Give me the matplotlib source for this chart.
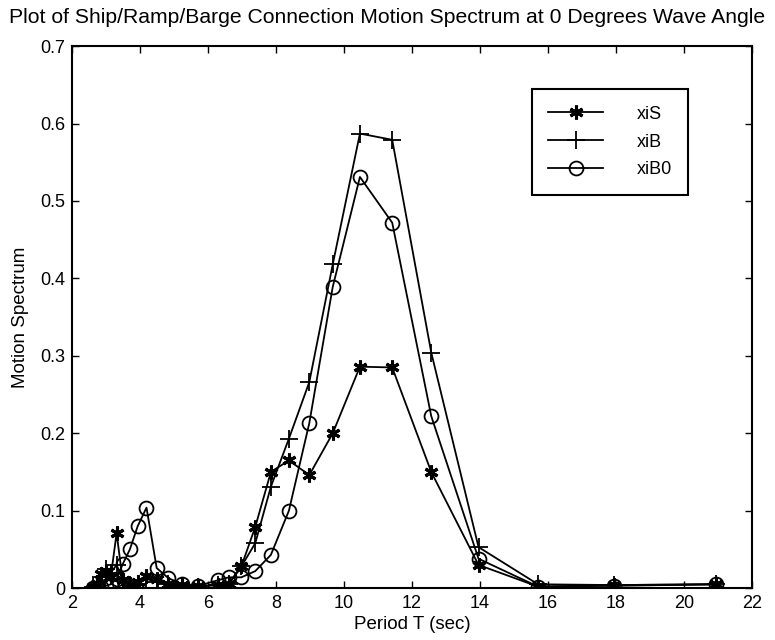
import matplotlib
matplotlib.use("Agg")
import matplotlib.pyplot as plt

plt.rcParams['font.family'] = ['Liberation Sans', 'DejaVu Sans']

# wave periods (sec)
period = [20.94, 17.95, 15.71, 13.96, 12.57, 11.42, 10.47, 9.67, 8.98, 8.38,
          7.85, 7.39, 6.98, 6.61, 6.28, 5.71, 5.24, 4.83, 4.49, 4.19,
          3.93, 3.70, 3.49, 3.31, 3.14, 2.99, 2.86, 2.73, 2.62]

xiS = [0.005, 0.004, 0.002, 0.030, 0.150, 0.285, 0.286, 0.200, 0.146, 0.165,
       0.150, 0.079, 0.028, 0.006, 0.004, 0.003, 0.004, 0.006, 0.012, 0.016,
       0.008, 0.005, 0.010, 0.071, 0.015, 0.022, 0.018, 0.005, 0.001]

xiB = [0.005, 0.004, 0.005, 0.053, 0.304, 0.579, 0.587, 0.418, 0.266, 0.193,
       0.131, 0.058, 0.028, 0.005, 0.004, 0.002, 0.003, 0.005, 0.008, 0.012,
       0.006, 0.004, 0.010, 0.030, 0.020, 0.025, 0.015, 0.005, 0.001]

xiB0 = [0.005, 0.003, 0.002, 0.038, 0.222, 0.472, 0.531, 0.389, 0.213, 0.100,
        0.043, 0.022, 0.014, 0.014, 0.010, 0.003, 0.005, 0.013, 0.026, 0.104,
        0.080, 0.050, 0.031, 0.012, 0.005, 0.003, 0.001, 0.000, 0.000]

fig = plt.figure(figsize=(7.75, 6.4), dpi=100)
ax = fig.add_axes([0.093, 0.081, 0.877, 0.847])

lw = 1.3
# MATLAB-style asterisk marker
ax.plot(period, xiS, color='black', lw=lw, marker=(6, 2, 0), ms=10, mew=2.2, label='xiS')
ax.plot(period, xiB, color='black', lw=lw, marker='+', ms=13, mew=1.3, label='xiB')
ax.plot(period, xiB0, color='black', lw=lw, marker='o', ms=10, mfc='none', mew=1.3, label='xiB0')

ax.set_xlim(2, 22)
ax.set_ylim(0, 0.7)
ax.set_xticks(range(2, 23, 2))
ax.set_yticks([0, 0.1, 0.2, 0.3, 0.4, 0.5, 0.6, 0.7])
ax.set_yticklabels(['0', '0.1', '0.2', '0.3', '0.4', '0.5', '0.6', '0.7'])
ax.tick_params(direction='in', top=True, right=True, labelsize=13, length=5, width=1, pad=5)
for s in ax.spines.values():
    s.set_linewidth(1.5)

ax.set_xlabel('Period T (sec)', fontsize=13.5, labelpad=3)
ax.set_ylabel('Motion Spectrum', fontsize=13.5, labelpad=8)
fig.text(0.5, 0.972, 'Plot of Ship/Ramp/Barge Connection Motion Spectrum at 0 Degrees Wave Angle',
         fontsize=15.2, ha='center', va='center')

leg = ax.legend(loc='upper left', bbox_to_anchor=(0.677, 0.92), fontsize=13,
                handlelength=3.0, handletextpad=1.9, labelspacing=0.6,
                fancybox=False, edgecolor='black', framealpha=1,
                borderpad=0.9, borderaxespad=0)
leg.get_frame().set_linewidth(1.5)

fig.savefig('out.png', dpi=100)
